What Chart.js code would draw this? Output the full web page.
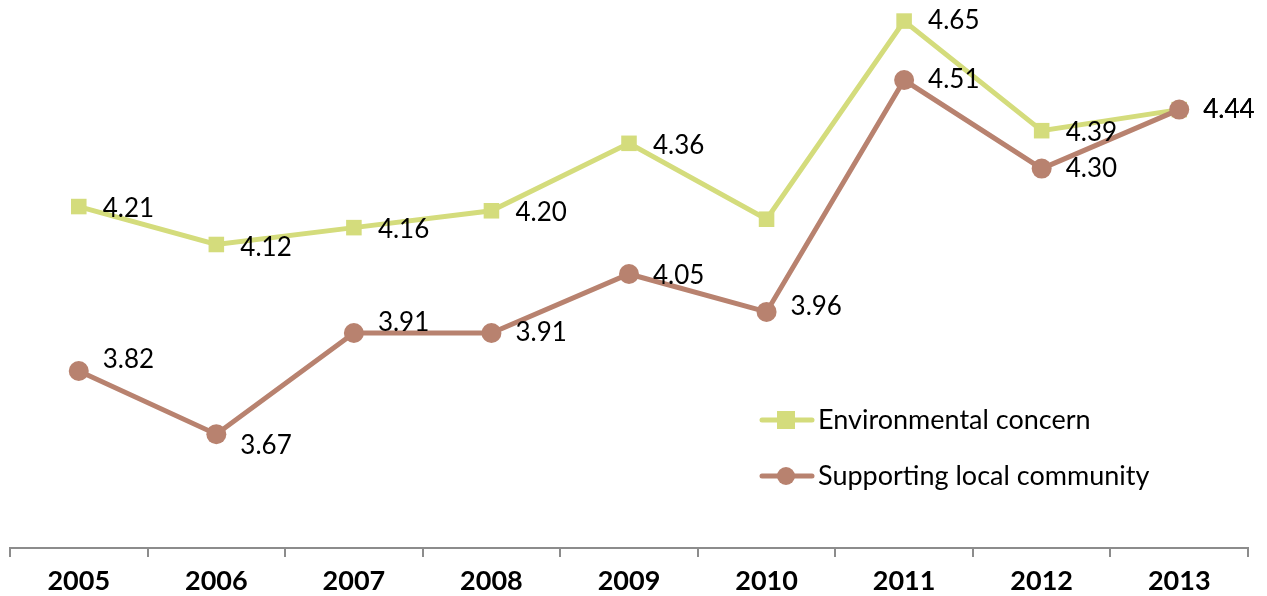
<!DOCTYPE html>
<html lang="en">
<head>
    <meta charset="UTF-8">
    <title>Environmental concern vs Supporting local community</title>
    <script src="https://cdn.jsdelivr.net/npm/chart.js@4.4.0/dist/chart.umd.min.js"></script>
    <style>
        html, body { margin: 0; padding: 0; background: #fff; }
        #wrap { width: 1267px; height: 596px; position: relative; }
    </style>
</head>
<body>
<div id="wrap"><canvas id="chart"></canvas></div>
<script>
    // data
    const years = ['2005', '2006', '2007', '2008', '2009', '2010', '2011', '2012', '2013'];
    const envConcern = [4.21, 4.12, 4.16, 4.20, 4.36, 4.18, 4.65, 4.39, 4.44];
    const localCommunity = [3.82, 3.67, 3.91, 3.91, 4.05, 3.96, 4.51, 4.30, 4.44];
    const envShowLabel = [true, true, true, true, true, false, true, true, true];

    // label nudges (pixels), styling only
    const envLabelDy = [2, 3, 2, 2, 2, 0, 0, 2, 0];
    const localLabelDy = [-11, 11, -10, 0, 2, -5, 0, 0, 0];

    const envColor = '#d4dc7c';
    const localColor = '#b8826f';
    const FONT = 'Lato, "Open Sans", sans-serif';

    const labelPlugin = {
        id: 'pointLabels',
        afterDatasetsDraw(chart) {
            const ctx = chart.ctx;
            ctx.save();
            ctx.font = '26px ' + FONT;
            ctx.fillStyle = '#000';
            ctx.textBaseline = 'middle';
            ctx.textAlign = 'left';
            chart.data.datasets.forEach((ds, i) => {
                const meta = chart.getDatasetMeta(i);
                meta.data.forEach((pt, j) => {
                    if (ds.showLabel && !ds.showLabel[j]) return;
                    ctx.fillText(ds.data[j].toFixed(2), pt.x + 24, pt.y + ds.labelDy[j]);
                });
            });
            ctx.restore();
        }
    };

    // legend drawn inside the plot, lower right
    const legendPlugin = {
        id: 'insideLegend',
        afterDraw(chart) {
            const ctx = chart.ctx;
            const items = [
                { text: 'Environmental concern', color: envColor, shape: 'rect', y: 420 },
                { text: 'Supporting local community', color: localColor, shape: 'circle', y: 476 }
            ];
            ctx.save();
            ctx.font = '27px ' + FONT;
            ctx.textBaseline = 'middle';
            items.forEach(it => {
                ctx.strokeStyle = it.color;
                ctx.lineWidth = 5;
                ctx.lineCap = 'round';
                ctx.beginPath();
                ctx.moveTo(762, it.y);
                ctx.lineTo(812, it.y);
                ctx.stroke();
                ctx.fillStyle = it.color;
                if (it.shape === 'rect') {
                    ctx.fillRect(777, it.y - 9, 18, 18);
                } else {
                    ctx.beginPath();
                    ctx.arc(786, it.y, 9, 0, Math.PI * 2);
                    ctx.fill();
                }
                ctx.fillStyle = '#000';
                ctx.fillText(it.text, 818, it.y);
            });
            ctx.restore();
        }
    };

    new Chart(document.getElementById('chart'), {
        type: 'line',
        data: {
            labels: years,
            datasets: [
                {
                    label: 'Environmental concern',
                    data: envConcern,
                    showLabel: envShowLabel,
                    labelDy: envLabelDy,
                    borderColor: envColor,
                    backgroundColor: envColor,
                    borderWidth: 5,
                    pointStyle: 'rect',
                    pointRadius: 11,
                    pointBorderWidth: 0,
                    tension: 0,
                    clip: false,
                    order: 2
                },
                {
                    label: 'Supporting local community',
                    data: localCommunity,
                    labelDy: localLabelDy,
                    borderColor: localColor,
                    backgroundColor: localColor,
                    borderWidth: 5,
                    pointStyle: 'circle',
                    pointRadius: 10,
                    pointBorderWidth: 0,
                    tension: 0,
                    clip: false,
                    order: 1
                }
            ]
        },
        options: {
            responsive: true,
            maintainAspectRatio: false,
            animation: false,
            layout: { autoPadding: false, padding: { left: 10, right: 19, top: 0, bottom: 0 } },
            plugins: {
                legend: { display: false },
                tooltip: { enabled: false }
            },
            scales: {
                x: {
                    offset: true,
                    afterFit(scale) { scale.height = 48; },
                    border: { color: '#8c8c8c', width: 2 },
                    grid: {
                        offset: true,
                        drawOnChartArea: false,
                        drawTicks: true,
                        tickLength: 9,
                        color: '#8c8c8c',
                        lineWidth: 2
                    },
                    ticks: {
                        color: '#000',
                        padding: 11,
                        font: { family: FONT, size: 27, weight: 'bold', lineHeight: 1.0 }
                    }
                },
                y: {
                    display: false,
                    min: 3.4,
                    max: 4.7
                }
            }
        },
        plugins: [labelPlugin, legendPlugin]
    });
</script>
</body>
</html>
